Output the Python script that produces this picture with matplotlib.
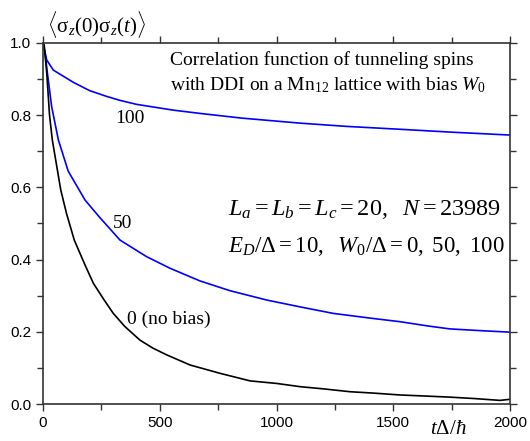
import matplotlib
matplotlib.use('Agg')
import matplotlib.pyplot as plt
from matplotlib.ticker import MultipleLocator

plt.rcParams['mathtext.fontset'] = 'custom'
plt.rcParams['mathtext.rm'] = 'Liberation Serif'
plt.rcParams['mathtext.it'] = 'Liberation Serif:italic'
plt.rcParams['mathtext.bf'] = 'Liberation Serif:bold'

# curves, t in units of hbar/Delta
tBias100 = [0, 5, 16, 44, 130, 200, 273, 330, 401, 558, 672, 850, 1101, 1300, 1529,
            1750, 2000]
cBias100 = [1.0, 0.985, 0.953, 0.925, 0.891, 0.868, 0.852, 0.841, 0.830, 0.814, 0.805,
            0.792, 0.778, 0.769, 0.761, 0.753, 0.745]

tBias50 = [0, 8, 19, 37, 66, 108, 180, 244, 330, 444, 544, 672, 800, 958, 1101, 1243,
           1400, 1529, 1650, 1743, 1880, 2000]
cBias50 = [1.0, 0.975, 0.916, 0.824, 0.731, 0.645, 0.565, 0.516, 0.454, 0.408, 0.376,
           0.341, 0.314, 0.288, 0.269, 0.251, 0.238, 0.228, 0.216, 0.208, 0.203, 0.199]

tBias0 = [0, 5, 16, 28, 40, 76, 101, 134, 180, 216, 260, 301, 350, 415, 470, 530, 630,
          758, 887, 1000, 1101, 1200, 1315, 1420, 1529, 1640, 1743, 1850, 1957, 2000]
cBias0 = [1.0, 0.995, 0.917, 0.80, 0.731, 0.593, 0.527, 0.454, 0.385, 0.334, 0.290,
          0.251, 0.215, 0.177, 0.155, 0.136, 0.108, 0.085, 0.064, 0.057, 0.048, 0.042,
          0.034, 0.030, 0.025, 0.022, 0.019, 0.015, 0.010, 0.013]

serif = 'Liberation Serif'

fig = plt.figure(figsize=(5.3, 4.41), dpi=100)
ax = fig.add_axes([43 / 530, 1 - 404 / 441, 467 / 530, 361 / 441])

ax.plot(tBias100, cBias100, color='#0000ff', lw=1.2)
ax.plot(tBias50, cBias50, color='#0000ff', lw=1.2)
ax.plot(tBias0, cBias0, color='black', lw=1.2)

ax.set_xlim(0, 2000)
ax.set_ylim(0, 1.0)
ax.xaxis.set_major_locator(MultipleLocator(500))
ax.xaxis.set_minor_locator(MultipleLocator(250))
ax.yaxis.set_major_locator(MultipleLocator(0.2))
ax.yaxis.set_minor_locator(MultipleLocator(0.1))
ax.yaxis.set_major_formatter(plt.FormatStrFormatter('%.1f'))
ax.tick_params(which='both', direction='out', top=True, right=True, width=1.0,
               labelsize=11, labelfontfamily='Liberation Sans', color='#333333')
ax.tick_params(which='major', length=5)
ax.tick_params(which='minor', length=4)
for s in ax.spines.values():
  s.set_linewidth(1.2)
  s.set_color('#333333')

ax.text(17, 1.028, r'$\langle\mathrm{\sigma}_z(0)\mathrm{\sigma}_z(t)\rangle$', fontsize=15,
        family=serif, va='baseline', clip_on=False)
ax.text(544, 0.939, 'Correlation function of tunneling spins', fontsize=14,
        family=serif, va='baseline')
ax.text(544, 0.870, r'with DDI on a Mn$_{12}$ lattice with bias $W_0$', fontsize=14,
        family=serif, va='baseline')
ax.text(308, 0.778, '100', fontsize=14, family=serif, va='baseline')
ax.text(300, 0.488, '50', fontsize=14, family=serif, va='baseline')
ax.text(360, 0.222, '0 (no bias)', fontsize=14, family=serif, va='baseline')
ax.text(792, 0.524, r'$L_a = L_b = L_c = 20,\ \ N = 23989$', fontsize=17.5,
        va='baseline')
ax.text(792, 0.421, r'$E_D/\Delta = 10,\ \ W_0/\Delta = 0,\ 50,\ 100$', fontsize=16.5,
        va='baseline')
ax.text(1657, -0.083, r'$t\Delta/\hbar$', fontsize=15, va='baseline', clip_on=False)

fig.savefig('out.png', dpi=100)
